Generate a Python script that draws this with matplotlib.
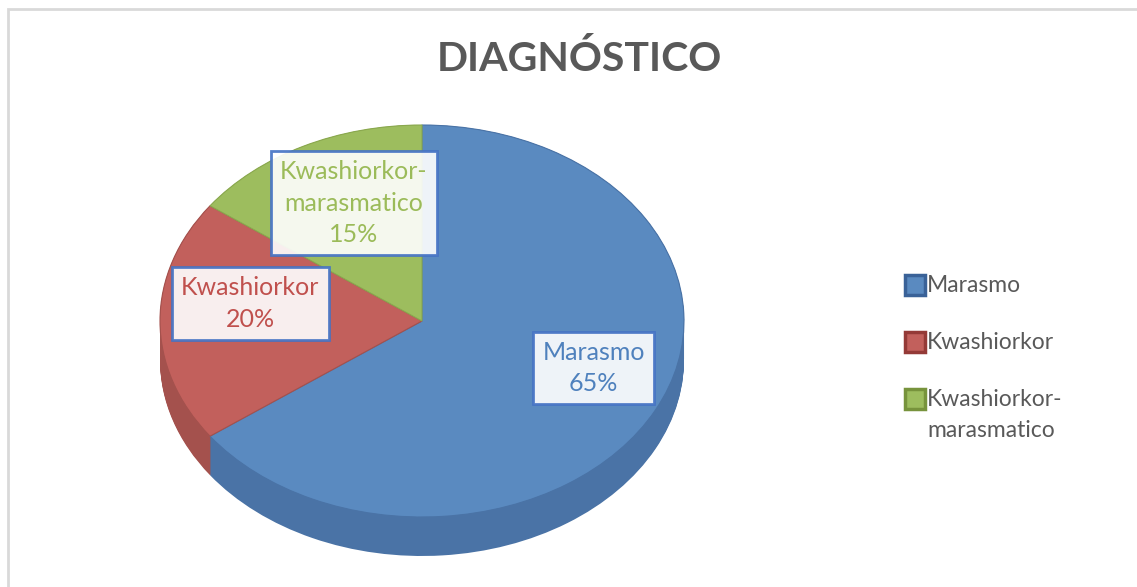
import numpy as np
import matplotlib
matplotlib.use("Agg")
import matplotlib.pyplot as plt
from matplotlib.patches import Rectangle

# data
categorias = ["Marasmo", "Kwashiorkor", "Kwashiorkor-\nmarasmatico"]
porcentajes = [65, 20, 15]

top_colors = ["#5A8AC0", "#C2605C", "#9DBD5E"]
side_colors = ["#4A73A6", "#A4514D", "#7F9B48"]
text_colors = ["#4F81BD", "#C0504D", "#9BBB59"]
leg_edge = ["#3A6298", "#943A37", "#77933C"]

W, H = 1137, 587
fig = plt.figure(figsize=(W / 100, H / 100), dpi=100)
plt.rcParams["font.family"] = ["Lato", "DejaVu Sans"]


def fx(px):
    return px / W


def fy(py):
    return 1 - py / H


# chart border
fig.patches.append(Rectangle((fx(8), fy(H + 5)), fx(W + 10), fy(9) - fy(H + 5),
                             transform=fig.transFigure, fill=False,
                             ec="#D9D9D9", lw=2))

fig.text(fx(579), fy(59), "DIAGNÓSTICO", ha="center", va="center",
         fontsize=29.5, fontweight="bold", color="#595959")

# pie geometry (pixels)
cx, cy, a, b, depth = 422, 321, 262, 196, 39
d = depth / b
ax = fig.add_axes([fx(cx - a), fy(cy + b + depth), 2 * a / W, (2 * b + depth) / H])

# side walls: stacked pies shifted down
for off in np.linspace(d, 0.0, 40):
    ax.pie(porcentajes, colors=side_colors, startangle=90, counterclock=False,
           center=(0, -off), radius=1, wedgeprops=dict(lw=0))

wedges, _ = ax.pie(porcentajes, colors=top_colors, startangle=90, counterclock=False,
                   center=(0, 0), radius=1,
                   wedgeprops=dict(lw=0.8, ec="#4A73A6"))
wedges[1].set_edgecolor("#A4514D")
wedges[2].set_edgecolor("#8AA84E")

ax.set_aspect("auto")
ax.set_xlim(-1, 1)
ax.set_ylim(-1 - d, 1)
ax.axis("off")

# data labels (callouts)
label_pos = [(0.655, -0.24), (-0.655, 0.09), (-0.26, 0.60)]
for i, (nom, val) in enumerate(zip(categorias, porcentajes)):
    x, y = label_pos[i]
    ax.text(x, y, f"{nom}\n{val}%", ha="center", va="center", fontsize=18,
            color=text_colors[i], linespacing=1.45, zorder=10,
            bbox=dict(boxstyle="square,pad=0.36", fc="white", alpha=0.9,
                      ec="#4472C4", lw=2))

# legend
rows = [285, 342, 399]
for i, nom in enumerate(categorias):
    ry = rows[i]
    fig.patches.append(Rectangle((fx(905), fy(ry + 10)), fx(20), fy(ry - 10) - fy(ry + 10),
                                 transform=fig.transFigure, fc=top_colors[i],
                                 ec=leg_edge[i], lw=2.5))
    fig.text(fx(927), fy(ry - 10), nom, ha="left", va="top", fontsize=16.5,
             color="#595959", linespacing=1.6)

fig.savefig("out.png", dpi=100)
